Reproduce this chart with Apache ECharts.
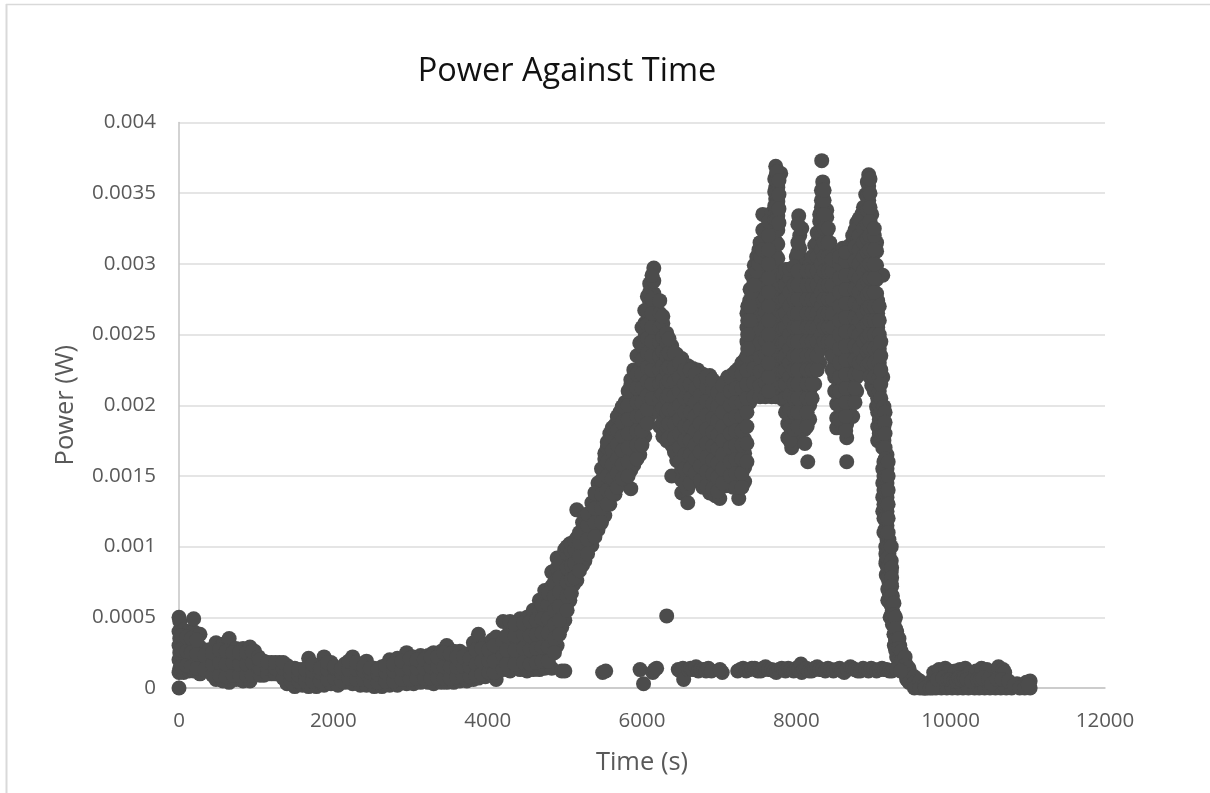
<!DOCTYPE html>
<html><head><meta charset="utf-8">
<style>html,body{margin:0;padding:0;background:#fff}#c{width:1210px;height:793px}</style>
<script src="https://cdn.jsdelivr.net/npm/echarts@6/dist/echarts.min.js"></script>
</head><body><div id="c"></div>
<script>
// Values: time in seconds, power in milliwatts.
const baselineTimes=[0,10,60,130,190,272,390,480,570,650,740,830,920,980,1100,1200,1300,1400,1500,1600,1680,1780,1880,1970,2060,2150,2250,2350,2430,2530,2630,2730,2830,2950,3040,3130,3230,3300,3400,3470,3560,3640,3730,3815,3880,3970,4060,4110];
const baselineMw=[[0,.11,.2,.3,.4,.5],[.14,.25,.35,.47],[.11,.2,.31,.41],[.12,.21,.31,.4],[.12,.22,.32,.4,.49],[.1,.2,.29,.38],[.12,.19,.27],[.06,.15,.24,.32],[.05,.13,.22,.31],[.04,.12,.21,.28,.35],[.06,.14,.23,.28],[.05,.13,.21,.28],[.05,.14,.22,.29],[.1,.18,.26],[.09,.19],[.1,.18],[.1,.18],[.03,.11,.16],[.01,.09,.14],[.02,.1,.13],[.01,.09,.15,.21],[.01,.08,.15],[.02,.1,.17,.22],[.03,.11,.18],[.02,.09,.14],[.04,.11,.17],[.03,.1,.17,.22],[.02,.1,.16],[.02,.09,.14,.19],[.01,.08,.14],[.01,.09,.15],[.02,.09,.15,.2],[.02,.1,.17,.21],[.03,.1,.18,.25],[.03,.11,.18,.22],[.04,.11,.17,.23],[.04,.11,.18,.23],[.03,.12,.19,.25],[.04,.11,.18,.26],[.04,.12,.2,.3],[.04,.11,.18,.26],[.05,.12,.19,.26],[.05,.12,.18,.24],[.06,.13,.21,.32],[.07,.14,.24,.38],[.08,.16,.24,.31],[.09,.16,.25,.34],[.06,.14,.24,.36]];
const baselineMidTimes=[30,100,160,230,330,435,525,610,700,785,875,950,1030,1050,1150,1250,1350,1450,1550,1640,1730,1830,1925,2015,2105,2200,2300,2390,2480,2580,2680,2780,2890,2995,3085,3180,3265,3350,3435,3515,3600,3685,3770,3850,3925,4015,4085];
const baselineMidMw=[[.15,.27,.37],[.16,.26,.36],[.15,.25,.35],[.14,.24,.34],[.13,.23],[.09,.17,.25],[.09,.18,.27],[.08,.17,.26],[.09,.18,.25],[.09,.17,.25],[.09,.17,.25],[.09,.18,.26],[.14,.22],[.09,.14,.2],[.1,.14,.18],[.1,.14,.18],[.07,.14,.18],[.05,.1,.14],[.05,.09,.13],[.05,.09,.13],[.05,.12,.17],[.05,.11,.14],[.06,.13,.18],[.07,.14,.15],[.05,.11,.14],[.07,.13,.19],[.06,.13,.18],[.06,.12,.15],[.05,.11,.14],[.04,.1,.13],[.05,.11,.16],[.05,.12,.17],[.06,.13,.19],[.06,.14,.21],[.07,.14,.2],[.07,.14,.2],[.07,.15,.22],[.07,.15,.22],[.07,.15,.25],[.07,.15,.24],[.08,.15,.22],[.08,.15,.22],[.08,.15,.21],[.09,.17,.27],[.1,.19,.28],[.11,.19,.27],[.11,.19,.3]];

const riseTimes=[4200,4290,4420,4510,4590,4670,4740,4830,4900,4960,5000,5065,5110,5155,5230,5260,5350,5430,5518,5583,5650,5712,5780,5855,5894,5971,6036,6100,6153];
const riseMw=[[.13,.23,.33,.47],[.12,.22,.32,.41,.47],[.13,.23,.33,.42,.49],[.12,.22,.32,.42,.5],[.13,.22,.32,.42,.55],[.13,.23,.33,.43,.53,.62],[.14,.24,.34,.44,.54,.69],[.14,.24,.34,.44,.54,.64,.72,.82],[.3,.4,.5,.6,.7,.85,.92],[.12,.43,.53,.63,.73,.83,.93],[.12,.48,.58,.68,.78,.88,.98],[.62,.72,.82,.92,1.02],[.73,.83,.93,1.03],[.76,.86,.96,1.06,1.26],[.87,.97,1.07,1.17],[.9,1,1.1,1.22],[1.01,1.11,1.21,1.31],[1.12,1.22,1.32,1.45],[1.22,1.32,1.42,1.52,1.62,1.66],[1.3,1.4,1.5,1.6,1.7,1.8],[1.37,1.47,1.57,1.67,1.77,1.86],[1.47,1.57,1.67,1.77,1.87,1.95],[1.48,1.53,1.63,1.73,1.83,1.93,2.02],[1.41,1.54,1.64,1.74,1.84,1.94,2.04,2.14,2.18],[1.58,1.68,1.78,1.88,1.98,2.08,2.18,2.25],[1.65,1.75,1.85,1.95,2.05,2.15,2.25,2.35,2.44],[1.78,1.88,1.98,2.08,2.18,2.28,2.38,2.48,2.58,2.67],[1.93,2.03,2.13,2.23,2.33,2.43,2.53,2.63,2.73,2.8,2.86],[1.99,2.09,2.19,2.29,2.39,2.49,2.59,2.69,2.79,2.88,2.97]];
const riseMidTimes=[4245,4355,4465,4550,4630,4705,4785,4865,4930,5030,5085,5130,5190,5295,5390,5475,5550,5615,5680,5745,5820,5935,6000,6070,6130];
const riseMidMw=[[.17,.27,.37],[.17,.27,.37,.45],[.18,.28,.38,.46],[.17,.27,.37,.47],[.18,.28,.38,.48],[.19,.29,.39,.49,.59],[.19,.29,.39,.49,.59,.67],[.25,.35,.45,.55,.65,.75],[.38,.48,.58,.68,.78,.88],[.55,.65,.75,.85,.95,1],[.67,.77,.87,.97,1.02],[.78,.88,.98,1.04],[.83,.93,1.03,1.1],[.95,1.05,1.15,1.23],[1.07,1.17,1.27,1.38],[1.17,1.27,1.37,1.47,1.55],[1.3,1.4,1.5,1.6,1.7,1.74],[1.38,1.48,1.58,1.68,1.78,1.84],[1.42,1.52,1.62,1.72,1.82,1.92],[1.48,1.58,1.68,1.78,1.88,1.99],[1.5,1.6,1.7,1.8,1.9,2,2.1],[1.62,1.72,1.82,1.92,2.02,2.12,2.22,2.35],[1.72,1.82,1.92,2.02,2.12,2.22,2.32,2.42,2.55],[1.87,1.97,2.07,2.17,2.27,2.37,2.47,2.57,2.67,2.77],[2.05,2.15,2.25,2.35,2.45,2.55,2.65,2.75,2.92]];

const valleyTimes=[6230,6270,6320,6385,6450,6515,6593,6660,6720,6788,6878,6950,7008,7080,7111,7180,7254,7330,7396];
const valleyMw=[[1.85,1.95,2.05,2.15,2.25,2.35,2.45,2.55,2.65,2.74],[1.78,1.88,1.98,2.08,2.18,2.28,2.38,2.48,2.58,2.63],[1.75,1.85,1.95,2.05,2.15,2.25,2.35,2.45,2.51],[1.5,1.72,1.82,1.92,2.02,2.12,2.22,2.32,2.42],[1.61,1.71,1.81,1.91,2.01,2.11,2.21,2.31,2.36],[1.38,1.47,1.55,1.65,1.75,1.85,1.95,2.05,2.15,2.25,2.33],[1.31,1.41,1.5,1.6,1.7,1.8,1.9,2,2.1,2.2,2.28],[1.47,1.57,1.67,1.77,1.87,1.97,2.07,2.17,2.26],[1.47,1.57,1.67,1.77,1.87,1.97,2.07,2.17,2.25],[1.42,1.52,1.62,1.72,1.82,1.92,2.02,2.12,2.22],[1.38,1.48,1.58,1.68,1.78,1.88,1.98,2.08,2.16,2.21],[1.36,1.46,1.56,1.66,1.76,1.86,1.96,2.06,2.16],[1.34,1.44,1.54,1.64,1.74,1.84,1.94,2.04,2.11],[1.43,1.53,1.63,1.73,1.83,1.93,2.03,2.13,2.17],[1.48,1.58,1.68,1.78,1.88,1.98,2.08,2.2],[1.42,1.52,1.62,1.72,1.82,1.92,2.02,2.12,2.22],[1.34,1.44,1.54,1.64,1.74,1.84,1.94,2.04,2.14,2.26],[1.46,1.56,1.66,1.76,1.86,1.96,2.06,2.16,2.26,2.32],[2.02,2.12,2.22,2.32,2.42,2.52,2.62,2.74]];
const valleyMidTimes=[6350,6420,6485,6555,6625,6690,6755,6835,6915,6980,7045,7145,7215,7295,7360];
const valleyMidMw=[[1.77,1.87,1.97,2.07,2.17,2.27,2.37,2.47],[1.67,1.77,1.87,1.97,2.07,2.17,2.27,2.37],[1.6,1.7,1.8,1.9,2,2.1,2.2,2.3],[1.45,1.55,1.65,1.75,1.85,1.95,2.05,2.15,2.25],[1.45,1.55,1.65,1.75,1.85,1.95,2.05,2.15,2.25],[1.52,1.62,1.72,1.82,1.92,2.02,2.12,2.22],[1.47,1.57,1.67,1.77,1.87,1.97,2.07,2.17],[1.43,1.53,1.63,1.73,1.83,1.93,2.03,2.13,2.2],[1.41,1.51,1.61,1.71,1.81,1.91,2.01,2.11,2.18],[1.39,1.49,1.59,1.69,1.79,1.89,1.99,2.09],[1.45,1.55,1.65,1.75,1.85,1.95,2.05,2.14],[1.5,1.6,1.7,1.8,1.9,2,2.1,2.2],[1.42,1.52,1.62,1.72,1.82,1.92,2.02,2.12,2.24],[1.42,1.52,1.62,1.72,1.82,1.92,2.02,2.12,2.22,2.3],[1.6,1.73,1.85,1.95,2.05,2.15,2.25,2.35,2.45,2.55,2.65]];

const peaksTimes=[7450,7530,7565,7600,7680,7733,7760,7798,7830,7889,7940,8000,8031,8044,8070,8110,8148,8173,8238,8303,8329,8342,8394,8433,8497,8523,8601,8653,8692,8730,8782,8847,8899,8938,8977,9040,9054,9120];
const peaksMw=[[2.06,2.16,2.26,2.36,2.46,2.56,2.66,2.76,2.86,2.92],[2.06,2.14,2.24,2.34,2.44,2.54,2.64,2.74,2.84,2.94,3.04,3.15],[3.35],[2.06,2.16,2.26,2.36,2.46,2.56,2.66,2.76,2.86,2.96,3.06,3.16,3.24],[2.06,2.14,2.24,2.34,2.44,2.54,2.64,2.74,2.84,2.94,3.04,3.14,3.24,3.36],[2.06,2.16,2.26,2.36,2.46,2.56,2.66,2.76,2.86,2.96,3.06,3.16,3.26,3.36,3.46,3.54,3.62,3.69],[2.06,2.14,2.24,2.34,2.44,2.54,2.64,2.74,2.84,2.94,3.04,3.14,3.24,3.34,3.44,3.54,3.58],[3.64],[2.04,2.14,2.24,2.34,2.44,2.54,2.64,2.74,2.84,2.94],[1.77,1.87,1.97,2.07,2.17,2.27,2.37,2.47,2.57,2.67,2.77,2.87,2.96],[1.7,1.82,1.92,2.02,2.12,2.22,2.32,2.42,2.52,2.62,2.72,2.82,2.92,2.96],[1.78,1.88,1.98,2.08,2.18,2.28,2.38,2.48,2.58,2.68,2.78,2.88,2.98,3.05],[3.34],[1.75,1.85,1.95,2.05,2.15,2.25,2.35,2.45,2.55,2.65,2.75,2.85,2.95,3.05,3.11,3.2],[3.25],[1.73,1.83,1.93,2.03,2.13,2.23,2.33,2.43,2.53,2.63,2.73,2.83,2.93,2.99],[1.6],[1.9,2,2.1,2.2,2.3,2.4,2.5,2.6,2.7,2.8,2.9,2.99],[2.15,2.25,2.35,2.45,2.55,2.65,2.75,2.85,2.95,3.05,3.13],[2.3,2.4,2.5,2.6,2.7,2.8,2.9,3,3.1,3.2,3.3,3.35],[3.73],[2.43,2.53,2.63,2.73,2.83,2.93,3.03,3.13,3.23,3.33,3.43,3.5,3.58],[2.43,2.53,2.63,2.73,2.83,2.93,3.03,3.13,3.23,3.33,3.38],[2.43,2.5,2.6,2.7,2.8,2.9,3,3.1,3.15],[2.1,2.2,2.3,2.4,2.5,2.6,2.7,2.8,2.9,3.02],[1.84,1.91,2.01,2.11,2.21,2.31,2.41,2.51,2.61,2.71,2.81,2.91,3],[1.85,1.95,2.05,2.15,2.25,2.35,2.45,2.55,2.65,2.75,2.85,2.95,3.05,3.11],[1.6,1.77,1.87,1.97,2.07,2.17,2.27,2.37,2.47,2.57,2.67,2.77,2.87,2.97,3.05],[1.95,2.05,2.15,2.25,2.35,2.45,2.55,2.65,2.75,2.85,2.95,3.05,3.13],[1.92,2.02,2.12,2.22,2.32,2.42,2.52,2.62,2.72,2.82,2.92,3.02,3.12,3.2],[2.1,2.2,2.3,2.4,2.5,2.6,2.7,2.8,2.9,3,3.1,3.2,3.29],[2.32,2.42,2.52,2.62,2.72,2.82,2.92,3.02,3.12,3.22,3.35],[2.32,2.4,2.5,2.6,2.7,2.8,2.9,3,3.1,3.2,3.3,3.4,3.49],[2.25,2.35,2.45,2.55,2.65,2.75,2.85,2.95,3.05,3.15,3.25,3.35,3.45,3.55,3.63],[2.14,2.24,2.34,2.44,2.54,2.64,2.74,2.84,2.94,3.04,3.14,3.24,3.35],[1.99,2.09,2.19,2.29,2.39,2.49,2.59,2.69,2.79,2.89,2.99,3.09,3.15],[1.75,1.85,1.95,2.05,2.15,2.25,2.35,2.45,2.55,2.65,2.74],[2.92,2.2,1.99]];
const peaksEdgeTimes=[7370,7400,7422,7455,7487,7515,7539,7565,7640,7720,7745,7775,7860,7915,7970,8020,8140,8205,8270,8325,8360,8415,8465,8560,8640,8760,8815,8870,8920,8955,9010,9075,9095];
const peaksEdgeMw=[[2.4,2.5,2.6,2.7],[2.6,2.7,2.82],[2.8,2.92],[2.85,2.99],[2.95,3.05],[3,3.1],[3.05,3.15],[3.1,3.24],[2.1,2.2,2.3,2.4,2.5,2.6,2.7,2.8,2.9,3,3.1,3.2,3.3],[3.31,3.41,3.51,3.6],[3.31,3.41,3.5,3.59,3.65],[3.29,3.39,3.49,3.59],[1.95,2.05,2.15,2.25,2.35,2.45,2.55,2.65,2.75,2.85,2.96],[1.75,1.85,1.97,2.07,2.2,2.3,2.4,2.5,2.6,2.7,2.8,2.9,2.96],[1.83,1.95,2.05,2.15,2.25,2.35,2.45,2.55,2.65,2.75,2.85,2.98],[1.85,1.95,2.05,2.15,2.25,2.35,2.45,2.55,2.65,2.75,2.85,2.95,3.08,3.15,3.28],[1.85,1.95,2.05,2.15,2.25,2.35,2.45,2.55,2.65,2.75,2.85,2.95],[2.05,2.15,2.25,2.35,2.45,2.55,2.65,2.75,2.85,2.95,3.05],[2.25,2.35,2.45,2.55,2.65,2.75,2.85,2.95,3.05,3.15,3.22],[2.4,2.5,2.6,2.7,2.8,2.9,3,3.1,3.2,3.3,3.4,3.45,3.52],[2.45,2.55,2.65,2.75,2.85,2.95,3.05,3.15,3.25,3.35,3.45,3.52],[2.45,2.55,2.65,2.75,2.85,2.95,3.05,3.15,3.25],[2.25,2.35,2.45,2.55,2.65,2.75,2.85,2.95,3.03],[1.9,2,2.1,2.2,2.3,2.4,2.5,2.6,2.7,2.8,2.9,3,3.05],[1.82,1.92,2.02,2.12,2.22,2.32,2.42,2.52,2.62,2.72,2.82,2.92,3.02,3.08],[2.02,2.12,2.22,2.32,2.42,2.52,2.62,2.72,2.82,2.92,3.02,3.12,3.24],[2.22,2.3,2.4,2.5,2.6,2.7,2.8,2.9,3,3.1,3.2,3.32],[2.32,2.45,2.55,2.65,2.75,2.85,2.95,3.05,3.15,3.25,3.4],[2.28,2.38,2.48,2.58,2.68,2.78,2.88,2.98,3.08,3.18,3.28,3.38,3.48,3.58],[2.2,2.3,2.4,2.5,2.6,2.7,2.8,2.9,3,3.1,3.2,3.3,3.4,3.5,3.6],[2.1,2.2,2.3,2.4,2.5,2.6,2.7,2.8,2.9,3,3.1,3.2,3.25],[1.8,1.9,2,2.1,2.2,2.3,2.4,2.5,2.6,2.7],[1.75,1.85,1.95,2.05,2.15,2.25,2.35,2.45]];

const tailTimes=[9135,9175,9165,9200,9215,9245,9270,9300,9340,9380,9430,9500,9570,9640];
const tailMw=[[1.99,1.85,1.75,1.6,1.5,1.4,1.3,1.2,1.1],[1.65,1.55,1.45,1.35,1.25,1.15,1.05,.95],[1,.9,.8],[1.05,.95,.85,.75,.68],[.8,.7,.6,.5],[.65,.55,.45],[.48,.38,.3],[.4,.3,.22],[.3,.22,.16],[.22,.15],[.16,.1,.06],[.09,.05],[.06,.02],[.03,0]];
const tailMidTimes=[9120,9150,9160,9190,9185,9230,9235,9265,9285,9330,9360,9410,9460,9530,9600,9665];
const tailMidMw=[[1.8,1.7,1.55,1.45,1.35,1.25],[1.95,1.88,1.8,1.7,1.62,1.55,1.45,1.38,1.28,1.2,1.12],[1.5,1.4,1.3,1.2,1.1,1,.95,.88],[1.6,1.5,1.4,1.3,1.2,1.1,1],[.92,.85,.78,.7,.62],[1,.9,.82,.74,.66],[.85,.78,.72,.65,.58,.52],[.6,.52,.44,.38],[.5,.42,.34,.27],[.35,.28,.2,.13],[.26,.19,.13],[.22,.16,.1],[.14,.09,.04],[.08,.04,0],[.05,0],[.02,0]];

const lowBandTimes=[5490,5530,5975,6020,6140,6165,6190,6320,6470,6500,6530,6540,6600,6630,6660,6700,6730,6760,6800,6830,6860,6900,7040,7010,7240,7275,7310,7350,7390,7425,7460,7500,7540,7570,7600,7640,7680,7710,7740,7775,7810,7835,7860,7895,7930,7965,8000,8030,8060,8070,8100,8130,8165,8200,8235,8270,8305,8340,8375,8410,8445,8480,8520,8560,8590,8620,8660,8700,8730,8760,8795,8830,8865,8900,8935,8970,9005,9040,9075,9110,9140,9170,9205,9240,9270,9300,9350];
const lowBandMw=[.11,.12,.13,.03,.11,.13,.14,.51,.13,.12,.14,.06,.13,.14,.13,.15,.12,.13,.13,.12,.14,.12,.11,.13,.12,.13,.14,.12,.13,.14,.14,.12,.12,.14,.15,.13,.13,.12,.11,.13,.14,.13,.12,.14,.13,.12,.14,.13,.17,.11,.13,.14,.12,.12,.14,.15,.13,.13,.12,.14,.13,.12,.13,.14,.12,.11,.13,.15,.14,.13,.12,.12,.14,.13,.12,.14,.13,.12,.13,.14,.13,.13,.12,.12,.13,.13,.12];

const endTimes=[9700,9750,9780,9810,9850,9880,9930,9950,9980,10020,10050,10060,10090,10120,10160,10190,10230,10250,10300,10310,10330,10370,10400,10440,10450,10470,10510,10560,10580,10620,10640,10650,10680,10700,10720,10790,10860,10930,10980,11030,11030,9670,9735,9765,9830,9900,9965,10000,10040,10075,10105,10140,10175,10210,10270,10345,10385,10420,10490,10530,10600,10665,10750,10825,10895,10960,11005];
const endMw=[0,.05,.11,0,.13,0,.14,0,.12,0,.08,.12,0,.13,0,.14,0,.11,.08,0,.12,0,.14,0,.07,.13,0,.06,0,.15,.07,0,.13,.11,0,0,.03,.02,.04,.05,0,0,0,0,.06,.07,.06,.06,.05,.05,.07,.06,.07,.06,.05,.06,.06,.07,.06,.03,.06,.06,.05,.02,0,0,.02];

const xTickMax=12000, xTickStep=2000, yTickMax=0.004, yTickStep=0.0005;

function fromColumns(times,values){
  const out=[];
  times.forEach((t,i)=>values[i].forEach(p=>out.push([t,p/1000])));
  return out;
}
const points=[].concat(
  fromColumns(baselineTimes,baselineMw),fromColumns(baselineMidTimes,baselineMidMw),
  fromColumns(riseTimes,riseMw),fromColumns(riseMidTimes,riseMidMw),
  fromColumns(valleyTimes,valleyMw),fromColumns(valleyMidTimes,valleyMidMw),
  fromColumns(peaksTimes,peaksMw),fromColumns(peaksEdgeTimes,peaksEdgeMw),
  fromColumns(tailTimes,tailMw),fromColumns(tailMidTimes,tailMidMw),
  lowBandTimes.map((t,i)=>[t,lowBandMw[i]/1000]),
  endTimes.map((t,i)=>[t,endMw[i]/1000])
);
const font='"Open Sans", sans-serif';
const chart=echarts.init(document.getElementById('c'),null,{renderer:'canvas'});
chart.setOption({
  animation:false,
  backgroundColor:'#fff',
  graphic:[
    {type:'line',z:-10,shape:{x1:6,y1:4.5,x2:1210,y2:4.5},style:{stroke:'#d9d9d9',lineWidth:1.5}},
    {type:'line',z:-10,shape:{x1:6.5,y1:4,x2:6.5,y2:793},style:{stroke:'#d9d9d9',lineWidth:2}}
  ],
  title:{text:'Power Against Time',left:562,top:50,textAlign:'center',textStyle:{fontFamily:font,fontSize:32.5,fontWeight:'normal',color:'#111'}},
  grid:{left:179,right:105,top:122.5,bottom:105,containLabel:false},
  xAxis:{type:'value',min:0,max:xTickMax,interval:xTickStep,name:'Time (s)',nameLocation:'middle',nameGap:62,
    nameTextStyle:{fontFamily:font,fontSize:25.5,color:'#595959'},
    axisLine:{show:true,onZero:false,lineStyle:{color:'#c4c4c4',width:1.5}},axisTick:{show:false},
    axisLabel:{margin:23,fontFamily:font,fontSize:20.5,color:'#595959',formatter:v=>String(v)},splitLine:{show:false}},
  yAxis:{type:'value',min:0,max:yTickMax,interval:yTickStep,name:'Power (W)',nameLocation:'middle',nameGap:100,nameRotate:90,
    nameTextStyle:{fontFamily:font,fontSize:25.5,color:'#595959'},
    axisLine:{show:true,lineStyle:{color:'#c4c4c4',width:1.5}},axisTick:{show:false},
    axisLabel:{margin:23,fontFamily:font,fontSize:20.5,color:'#595959'},
    splitLine:{show:true,lineStyle:{color:'#dcdcdc',width:1.5}}},
  series:[{type:'scatter',clip:false,symbol:'circle',symbolSize:15,itemStyle:{color:'#4c4c4c',opacity:1},data:points,large:false,progressive:0}]
});
</script></body></html>
